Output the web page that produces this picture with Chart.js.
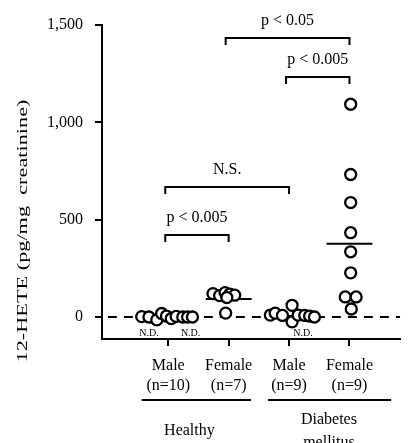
<!DOCTYPE html>
<html>
<head>
<meta charset="utf-8">
<script src="https://cdn.jsdelivr.net/npm/chart.js@4.4.1/dist/chart.umd.min.js"></script>
<style>
  html, body { margin: 0; padding: 0; background: #fff; }
  #wrap { width: 408px; height: 443px; position: relative; }
</style>
</head>
<body>
<div id="wrap"><canvas id="heteChart"></canvas></div>
<script>
  'use strict';

  const SERIF = "'Liberation Serif', 'Times New Roman', serif";

  // Groups along the x axis
  const groupLabels = [['Male', '(n=10)'], ['Female', '(n=7)'], ['Male', '(n=9)'], ['Female', '(n=9)']];
  const groupPos = [1, 2, 3, 4];
  const yTicks = [0, 500, 1000, 1500];

  // 12-HETE per subject (pg/mg creatinine) and the sideways jitter of each dot
  const healthyMale = [2, 0, -15, 18, 5, -8, 3, 0, 0, 0];
  const healthyMaleJitter = [-0.44, -0.32, -0.19, -0.11, -0.03, 0.05, 0.13, 0.24, 0.32, 0.40];
  const healthyFemale = [120, 110, 125, 118, 112, 100, 20];
  const healthyFemaleJitter = [-0.26, -0.15, -0.06, 0.02, 0.10, -0.03, -0.05];
  const diabetesMale = [10, 20, 8, 60, -25, 10, 8, 5, 0];
  const diabetesMaleJitter = [-0.31, -0.23, -0.11, 0.05, 0.05, 0.15, 0.26, 0.34, 0.42];
  const diabetesFemale = [1093, 732, 588, 433, 335, 227, 103, 103, 41];
  const diabetesFemaleJitter = [0.02, 0.02, 0.02, 0.02, 0.02, 0.02, -0.07, 0.11, 0.03];

  // Mean bars per group
  const groupMeans = [0, 92, 5, 376];

  // Significance brackets: group pairs, label, height of the bar
  const compPairs = [[1, 2], [1, 3], [2, 4], [3, 4]];
  const compLabels = ['p < 0.005', 'N.S.', 'p < 0.05', 'p < 0.005'];
  const compHeights = [421, 668, 1433, 1233];

  // Not-detected markers (x position along the axis)
  const ndAt = [0.68, 1.37, 3.23];

  const X_MIN = -0.097;
  const X_MAX = 4.84;

  const groups = [
    [healthyMale, healthyMaleJitter],
    [healthyFemale, healthyFemaleJitter],
    [diabetesMale, diabetesMaleJitter],
    [diabetesFemale, diabetesFemaleJitter]
  ];

  const points = [];
  groups.forEach(function (g, i) {
    g[0].forEach(function (v, k) {
      points.push({ x: groupPos[i] + g[1][k], y: v });
    });
  });

  const meanSegments = [];
  groupMeans.forEach(function (m, i) {
    meanSegments.push({ x: groupPos[i] - 0.38, y: m });
    meanSegments.push({ x: groupPos[i] + 0.38, y: m });
    meanSegments.push({ x: groupPos[i] + 0.5, y: null });
  });

  /**
   * Extra drawing: axis title, N.D. marks, brackets, group names.
   */
  const annotations = {
    id: 'annotations',
    afterDraw: function (chart) {
      const ctx = chart.ctx;
      const xs = chart.scales.x;
      const ys = chart.scales.y;
      ctx.save();
      ctx.fillStyle = '#000';
      ctx.strokeStyle = '#000';
      ctx.lineWidth = 2;

      // y axis title, stretched to the length used in the figure
      const title = '12-HETE (pg/mg  creatinine)';
      ctx.font = '15px ' + SERIF;
      const w = ctx.measureText(title).width;
      ctx.translate(23, 231);
      ctx.rotate(-Math.PI / 2);
      ctx.scale(263 / w, 1);
      ctx.textAlign = 'center';
      ctx.textBaseline = 'middle';
      ctx.fillText(title, 0, 0);
      ctx.setTransform(1, 0, 0, 1, 0, 0);

      // N.D. marks
      ctx.font = '10px ' + SERIF;
      ctx.textAlign = 'center';
      ctx.textBaseline = 'middle';
      ndAt.forEach(function (x) {
        ctx.fillText('N.D.', xs.getPixelForValue(x), 333);
      });

      // brackets
      ctx.font = '16px ' + SERIF;
      compPairs.forEach(function (pair, i) {
        const x1 = xs.getPixelForValue(pair[0]) - 3;
        const x2 = xs.getPixelForValue(pair[1]);
        const y = ys.getPixelForValue(compHeights[i]);
        ctx.beginPath();
        ctx.moveTo(x1, y + 7);
        ctx.lineTo(x1, y);
        ctx.lineTo(x2, y);
        ctx.lineTo(x2, y + 7);
        ctx.stroke();
        ctx.fillText(compLabels[i], (x1 + x2) / 2, y - 17);
      });

      // group underlines and names
      const under = [[0.56, 2.37], [2.65, 4.69]];
      under.forEach(function (u) {
        ctx.beginPath();
        ctx.moveTo(xs.getPixelForValue(u[0]), 400);
        ctx.lineTo(xs.getPixelForValue(u[1]), 400);
        ctx.stroke();
      });
      ctx.fillText('Healthy', xs.getPixelForValue(1.35), 431);
      ctx.fillText('Diabetes', xs.getPixelForValue(3.66), 420);
      ctx.fillText('mellitus', xs.getPixelForValue(3.66), 443);
      ctx.restore();
    }
  };

  const canvas = document.getElementById('heteChart');
  new Chart(canvas.getContext('2d'), {
    type: 'scatter',
    data: {
      datasets: [
        {
          type: 'scatter',
          data: points,
          order: 0,
          pointRadius: 5.5,
          pointBorderWidth: 2.3,
          pointBackgroundColor: '#fff',
          pointBorderColor: '#000'
        },
        {
          type: 'line',
          data: meanSegments,
          order: 1,
          borderColor: '#000',
          borderWidth: 2,
          pointRadius: 0,
          spanGaps: false
        },
        {
          type: 'line',
          data: [{ x: 0.0, y: 0 }, { x: X_MAX, y: 0 }],
          order: 2,
          borderColor: '#000',
          borderWidth: 2,
          borderDash: [9, 7],
          pointRadius: 0
        }
      ]
    },
    options: {
      responsive: true,
      maintainAspectRatio: false,
      animation: false,
      layout: {
        padding: { top: 25, right: 0, left: 0, bottom: 0 }
      },
      plugins: {
        legend: { display: false },
        tooltip: { enabled: false }
      },
      scales: {
        x: {
          type: 'linear',
          min: X_MIN,
          max: X_MAX,
          afterBuildTicks: function (s) {
            s.ticks = groupPos.map(function (v) { return { value: v }; });
          },
          afterFit: function (s) { s.height = 104; },
          grid: { drawOnChartArea: false, tickLength: 7, color: '#000', lineWidth: 2 },
          border: { color: '#000', width: 2 },
          ticks: {
            autoSkip: false,
            maxRotation: 0,
            padding: 9,
            color: '#000',
            font: { family: SERIF, size: 16, lineHeight: 1.3 },
            callback: function (v) { return groupLabels[groupPos.indexOf(v)]; }
          }
        },
        y: {
          min: -113,
          max: 1500,
          afterBuildTicks: function (s) {
            s.ticks = yTicks.map(function (v) { return { value: v }; });
          },
          afterFit: function (s) { s.width = 102; },
          grid: { drawOnChartArea: false, tickLength: 7, color: '#000', lineWidth: 2 },
          border: { color: '#000', width: 2 },
          ticks: {
            padding: 12,
            color: '#000',
            font: { family: SERIF, size: 16 },
            callback: function (v) { return v.toLocaleString('en-US'); }
          }
        }
      }
    },
    plugins: [annotations]
  });
</script>
</body>
</html>
